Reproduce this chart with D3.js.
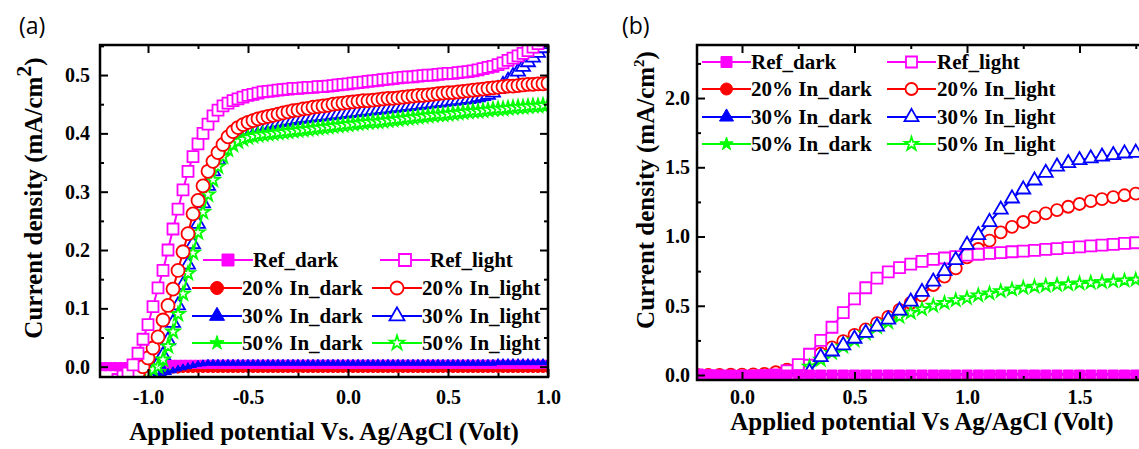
<!DOCTYPE html>
<html>
<head>
<meta charset="utf-8">
<script src="https://cdn.jsdelivr.net/npm/d3@7"></script>
<style>
  body { margin: 0; background: #fff; }
  svg { display: block; }
</style>
</head>
<body>
<div id="chart"></div>
<script>
// --------------------------------------
//  Data
// --------------------------------------

// panel (a): scan from -1.225 V to 1.0 V, 0.025 V step
const xsA = d3.range(-1.225, 1.0001, 0.025);

const refLightA = [
  -0.05, -0.045, -0.035, -0.022, -0.016, -0.011, 0.003, 0.023, 0.047, 0.072,
  0.103, 0.135, 0.165, 0.2, 0.236, 0.27, 0.303, 0.335, 0.36, 0.382,
  0.4, 0.416, 0.43, 0.44, 0.447, 0.452, 0.456, 0.459, 0.462, 0.465,
  0.467, 0.469, 0.471, 0.472, 0.473, 0.474, 0.475, 0.476, 0.477, 0.477,
  0.478, 0.479, 0.479, 0.48, 0.48, 0.481, 0.482, 0.483, 0.484, 0.485,
  0.486, 0.487, 0.488, 0.489, 0.49, 0.491, 0.492, 0.493, 0.494, 0.495,
  0.496, 0.497, 0.497, 0.498, 0.499, 0.5, 0.5, 0.501, 0.502, 0.503,
  0.503, 0.504, 0.505, 0.506, 0.507, 0.509, 0.511, 0.513, 0.515, 0.518,
  0.521, 0.525, 0.529, 0.533, 0.537, 0.542, 0.548, 0.554, 0.56, 0.566
];
const in20LightA = [
  -0.06, -0.055, -0.05, -0.045, -0.038, -0.03, -0.022, -0.012, 0.0, 0.015,
  0.032, 0.051, 0.08, 0.105, 0.133, 0.165, 0.197, 0.228, 0.262, 0.285,
  0.31, 0.335, 0.352, 0.367, 0.381, 0.394, 0.403, 0.41, 0.415, 0.419,
  0.422, 0.425, 0.427, 0.429, 0.431, 0.433, 0.435, 0.437, 0.439, 0.44,
  0.442, 0.443, 0.445, 0.446, 0.447, 0.448, 0.45, 0.451, 0.452, 0.453,
  0.454, 0.455, 0.456, 0.456, 0.457, 0.458, 0.459, 0.46, 0.46, 0.461,
  0.462, 0.463, 0.464, 0.465, 0.465, 0.466, 0.467, 0.468, 0.469, 0.47,
  0.47, 0.471, 0.472, 0.473, 0.474, 0.475, 0.476, 0.477, 0.478, 0.479,
  0.48, 0.481, 0.481, 0.482, 0.483, 0.484, 0.484, 0.485, 0.485, 0.486
];
const in30LightA = [
  -0.07, -0.065, -0.06, -0.055, -0.05, -0.045, -0.038, -0.03, -0.02, -0.012,
  -0.005, 0.005, 0.02, 0.045, 0.075, 0.105, 0.14, 0.175, 0.21, 0.245,
  0.28, 0.31, 0.335, 0.355, 0.372, 0.384, 0.392, 0.398, 0.402, 0.405,
  0.408, 0.41, 0.413, 0.415, 0.417, 0.419, 0.42, 0.422, 0.423, 0.425,
  0.426, 0.427, 0.428, 0.429, 0.43, 0.431, 0.432, 0.433, 0.434, 0.435,
  0.436, 0.437, 0.438, 0.439, 0.44, 0.441, 0.442, 0.443, 0.444, 0.445,
  0.446, 0.447, 0.448, 0.449, 0.45, 0.451, 0.452, 0.453, 0.454, 0.455,
  0.456, 0.457, 0.458, 0.459, 0.46, 0.462, 0.464, 0.466, 0.47, 0.476,
  0.483, 0.49, 0.498, 0.506, 0.514, 0.522, 0.53, 0.538, 0.546, 0.553
];
const in50LightA = [
  -0.06, -0.055, -0.05, -0.045, -0.04, -0.035, -0.03, -0.025, -0.02, -0.012,
  -0.005, 0.0, 0.012, 0.035, 0.06, 0.09, 0.125, 0.16, 0.195, 0.23,
  0.265, 0.295, 0.32, 0.343, 0.36, 0.372, 0.38, 0.386, 0.39, 0.393,
  0.395, 0.397, 0.398, 0.399, 0.4, 0.401, 0.402, 0.403, 0.404, 0.405,
  0.406, 0.407, 0.408, 0.409, 0.41, 0.411, 0.412, 0.413, 0.414, 0.415,
  0.416, 0.417, 0.418, 0.419, 0.42, 0.42, 0.421, 0.422, 0.423, 0.424,
  0.425, 0.426, 0.427, 0.428, 0.429, 0.43, 0.431, 0.432, 0.432, 0.433,
  0.434, 0.435, 0.436, 0.437, 0.438, 0.438, 0.439, 0.44, 0.441, 0.442,
  0.442, 0.443, 0.444, 0.445, 0.445, 0.446, 0.447, 0.447, 0.448, 0.449
];
const refDarkA = [
  0, 0, 0, 0, 0, 0, 0.003, 0.004, 0.004, 0.004,
  0.004, 0.004, 0.004, 0.004, 0.004, 0.004, 0.004, 0.004, 0.004, 0.004,
  0.004, 0.004, 0.004, 0.004, 0.004, 0.004, 0.004, 0.004, 0.004, 0.004,
  0.004, 0.004, 0.004, 0.004, 0.004, 0.004, 0.004, 0.004, 0.004, 0.004,
  0.004, 0.004, 0.004, 0.004, 0.004, 0.004, 0.004, 0.004, 0.004, 0.004,
  0.004, 0.004, 0.004, 0.004, 0.004, 0.004, 0.004, 0.004, 0.004, 0.004,
  0.004, 0.004, 0.004, 0.004, 0.004, 0.004, 0.004, 0.004, 0.004, 0.004,
  0.004, 0.004, 0.004, 0.004, 0.004, 0.004, 0.004, 0.004, 0.004, 0.004,
  0.004, 0.004, 0.004, 0.004, 0.004, 0.004, 0.004, 0.004, 0.004, 0.004
];
const in20DarkA = [
  -0.03, -0.028, -0.026, -0.024, -0.022, -0.02, -0.018, -0.016, -0.014, -0.012,
  -0.01, -0.009, -0.008, -0.007, -0.006, -0.006, -0.005, -0.005, -0.005, -0.005,
  -0.005, -0.005, -0.005, -0.005, -0.005, -0.005, -0.005, -0.005, -0.005, -0.005,
  -0.005, -0.005, -0.005, -0.005, -0.005, -0.005, -0.005, -0.005, -0.005, -0.005,
  -0.005, -0.005, -0.005, -0.005, -0.005, -0.005, -0.005, -0.005, -0.005, -0.005,
  -0.005, -0.005, -0.005, -0.005, -0.005, -0.005, -0.005, -0.005, -0.005, -0.005,
  -0.005, -0.005, -0.005, -0.005, -0.005, -0.005, -0.005, -0.005, -0.005, -0.005,
  -0.005, -0.005, -0.005, -0.005, -0.005, -0.005, -0.005, -0.005, -0.005, -0.005,
  -0.005, -0.005, -0.005, -0.005, -0.005, -0.005, -0.005, -0.005, -0.005, -0.005
];
const in30DarkA = [
  -0.04, -0.038, -0.036, -0.034, -0.032, -0.03, -0.027, -0.024, -0.02, -0.017,
  -0.015, -0.014, -0.013, -0.01, -0.007, -0.004, -0.002, 0.0, 0.002, 0.004,
  0.005, 0.006, 0.006, 0.006, 0.006, 0.006, 0.006, 0.006, 0.006, 0.006,
  0.006, 0.006, 0.006, 0.006, 0.006, 0.006, 0.006, 0.006, 0.006, 0.006,
  0.006, 0.006, 0.006, 0.006, 0.006, 0.006, 0.006, 0.006, 0.006, 0.006,
  0.006, 0.006, 0.006, 0.006, 0.006, 0.006, 0.006, 0.006, 0.006, 0.006,
  0.006, 0.006, 0.006, 0.006, 0.006, 0.006, 0.006, 0.006, 0.006, 0.006,
  0.006, 0.006, 0.006, 0.006, 0.006, 0.006, 0.006, 0.006, 0.006, 0.007,
  0.007, 0.007, 0.007, 0.007, 0.007, 0.007, 0.007, 0.007, 0.007, 0.007
];
const in50DarkA = [
  -0.035, -0.033, -0.031, -0.029, -0.027, -0.025, -0.022, -0.019, -0.016, -0.012,
  -0.009, -0.006, -0.004, -0.002, 0.0, 0.001, 0.001, 0.002, 0.002, 0.002,
  0.002, 0.002, 0.002, 0.002, 0.002, 0.002, 0.002, 0.002, 0.002, 0.002,
  0.002, 0.002, 0.002, 0.002, 0.002, 0.002, 0.002, 0.002, 0.002, 0.002,
  0.002, 0.002, 0.002, 0.002, 0.002, 0.002, 0.002, 0.002, 0.002, 0.002,
  0.002, 0.002, 0.002, 0.002, 0.002, 0.002, 0.002, 0.002, 0.002, 0.002,
  0.002, 0.002, 0.002, 0.002, 0.002, 0.002, 0.002, 0.002, 0.002, 0.002,
  0.002, 0.002, 0.002, 0.002, 0.002, 0.002, 0.002, 0.002, 0.002, 0.002,
  0.002, 0.002, 0.002, 0.002, 0.002, 0.002, 0.002, 0.002, 0.002, 0.002
];

// panel (b): scan from -0.2 V to 1.8 V, 0.05 V step
const xsB = d3.range(-0.2, 1.8001, 0.05);

const refLightB = [
  0.0, -0.005, -0.008, -0.01, -0.01, -0.008, -0.005, 0.0, 0.03, 0.075,
  0.15, 0.25, 0.345, 0.45, 0.55, 0.63, 0.7, 0.745, 0.775, 0.8,
  0.82, 0.835, 0.845, 0.855, 0.865, 0.872, 0.878, 0.884, 0.89, 0.895,
  0.9, 0.907, 0.913, 0.92, 0.926, 0.932, 0.938, 0.944, 0.95, 0.955, 0.96
];
const in20LightB = [
  0.0, 0.0, 0.0, 0.002, 0.003, 0.005, 0.008, 0.02, 0.038, 0.065,
  0.1, 0.155, 0.2, 0.245, 0.29, 0.33, 0.375, 0.42, 0.47, 0.52,
  0.575, 0.65, 0.71, 0.77, 0.85, 0.91, 0.97, 1.03, 1.07, 1.105,
  1.14, 1.167, 1.19, 1.215, 1.235, 1.255, 1.27, 1.285, 1.298, 1.31, 1.318
];
const in30LightB = [
  null, null, null, null, null, null, null, null, null, null,
  0.02, 0.13, 0.17, 0.215, 0.262, 0.305, 0.35, 0.4, 0.465, 0.53,
  0.6, 0.675, 0.75, 0.83, 0.94, 1.01, 1.105, 1.195, 1.275, 1.34,
  1.405, 1.46, 1.505, 1.53, 1.552, 1.565, 1.577, 1.588, 1.6, 1.605, 1.61
];
const in50LightB = [
  null, null, null, null, null, null, null, null, null, null,
  0.06, 0.11, 0.16, 0.205, 0.25, 0.3, 0.345, 0.38, 0.42, 0.45,
  0.475, 0.5, 0.52, 0.54, 0.555, 0.575, 0.59, 0.605, 0.618, 0.63,
  0.638, 0.645, 0.651, 0.656, 0.662, 0.667, 0.672, 0.677, 0.683, 0.688, 0.692
];
const refDarkB = [
  0, 0, 0, 0, 0, 0, 0, 0, 0, 0,
  0, 0, 0, 0, 0, 0, 0, 0, 0, 0,
  0, 0, 0, 0, 0, 0, 0, 0, 0, 0,
  0, 0, 0, 0, 0, 0, 0, 0, 0, 0, 0
];
const in20DarkB = [
  0, 0, 0, 0, 0, 0, 0, 0, 0, 0,
  0, 0, 0, 0, 0, 0, 0, 0, 0, 0,
  0, 0, 0, 0, 0, 0, 0, 0, 0, 0,
  0, 0, 0, 0, 0, 0, 0, 0, 0, 0, 0
];
const in30DarkB = [
  0.005, 0.005, 0.005, 0.005, 0.005, 0.005, 0.005, 0.005, 0.005, 0.005,
  0.005, 0.005, 0.005, 0.005, 0.005, 0.005, 0.005, 0.005, 0.005, 0.005,
  0.005, 0.005, 0.005, 0.005, 0.005, 0.005, 0.005, 0.005, 0.005, 0.005,
  0.005, 0.005, 0.005, 0.005, 0.005, 0.005, 0.005, 0.005, 0.005, 0.005, 0.005
];
const in50DarkB = [
  0, 0, 0, 0, 0, 0, 0, 0, 0, 0,
  0, 0, 0, 0, 0, 0, 0, 0, 0, 0,
  0, 0, 0, 0, 0, 0, 0, 0, 0, 0,
  0, 0, 0, 0, 0, 0, 0, 0, 0, 0, 0
];

// legend labels, in the two-column order used by the figure
const legendLeft  = ["refDark", "in20Dark", "in30Dark", "in50Dark"];
const legendRight = ["refLight", "in20Light", "in30Light", "in50Light"];

// --------------------------------------
//  Styles
// --------------------------------------

const width = 1139, height = 449;
const serif = "'Liberation Serif', 'Times New Roman', serif";

const styles = {
  refDark:   { name: "Ref_dark",     color: "#ff00ff", shape: "square",   hollow: false },
  refLight:  { name: "Ref_light",    color: "#ff00ff", shape: "square",   hollow: true },
  in20Dark:  { name: "20% In_dark",  color: "#ff0000", shape: "circle",   hollow: false },
  in20Light: { name: "20% In_light", color: "#ff0000", shape: "circle",   hollow: true },
  in30Dark:  { name: "30% In_dark",  color: "#0000ff", shape: "triangle", hollow: false },
  in30Light: { name: "30% In_light", color: "#0000ff", shape: "triangle", hollow: true },
  in50Dark:  { name: "50% In_dark",  color: "#00ff00", shape: "star",     hollow: false },
  in50Light: { name: "50% In_light", color: "#00ff00", shape: "star",     hollow: true }
};

// symbol of a given visual width (px)
function symbolPath(shape, w) {
  if (shape === "square") return d3.symbol(d3.symbolSquare, w * w)();
  if (shape === "circle") return d3.symbol(d3.symbolCircle, Math.PI * (w / 2) ** 2)();
  if (shape === "triangle") {
    const yy = w / (2 * Math.sqrt(3));
    return d3.symbol(d3.symbolTriangle, yy * yy * 3 * Math.sqrt(3))();
  }
  return d3.symbol(d3.symbolStar, (w / 2) ** 2 / 0.8908130915292852)();
}

const svg = d3.select("#chart")
  .append("svg")
    .attr("width", width)
    .attr("height", height)
    .attr("viewBox", [0, 0, width, height]);

// --------------------------------------
//  Panel drawing
// --------------------------------------

function drawPanel(p) {
  const x = d3.scaleLinear().domain(p.xDomain).range(p.xRange);
  const y = d3.scaleLinear().domain(p.yDomain).range(p.yRange);
  const [x0, x1] = p.xRange, [y1, y0] = p.yRange;

  svg.append("clipPath").attr("id", "clip-" + p.id)
    .append("rect")
      .attr("x", x0).attr("y", y0)
      .attr("width", x1 - x0).attr("height", y1 - y0);

  const plot = svg.append("g").attr("clip-path", `url(#clip-${p.id})`);

  const line = d3.line()
    .defined(d => d[1] != null)
    .x(d => x(d[0]))
    .y(d => y(d[1]));

  p.order.forEach(key => {
    const st = styles[key];
    const pts = p.xs.map((xv, i) => [xv, p.series[key][i]]);
    const light = st.hollow;
    plot.append("path")
      .datum(pts)
      .attr("d", line)
      .attr("fill", "none")
      .attr("stroke", st.color)
      .attr("stroke-width", 2);
    plot.append("g")
      .selectAll("path")
      .data(pts.filter(d => d[1] != null))
      .join("path")
        .attr("transform", d => `translate(${x(d[0])},${y(d[1])})`)
        .attr("d", symbolPath(st.shape, p.markerSize[key]))
        .attr("fill", light ? "#fff" : st.color)
        .attr("stroke", st.color)
        .attr("stroke-width", light ? 1.8 : 1);
  });

  // legend
  const leg = svg.append("g").attr("clip-path", `url(#clip-${p.id})`);
  [legendLeft, legendRight].forEach((col, c) => {
    col.forEach((key, r) => {
      const st = styles[key];
      const shift = r === 0 ? p.legend.firstShift[c] : 0;
      const lx = p.legend.lineX[c] + shift;
      const ly = p.legend.rowY[r];
      leg.append("line")
        .attr("x1", lx).attr("x2", lx + p.legend.lineLen)
        .attr("y1", ly).attr("y2", ly)
        .attr("stroke", st.color).attr("stroke-width", 2);
      leg.append("path")
        .attr("transform", `translate(${lx + p.legend.lineLen / 2},${ly})`)
        .attr("d", symbolPath(st.shape, p.legend.marker[st.shape]))
        .attr("fill", st.hollow ? "#fff" : st.color)
        .attr("stroke", st.color)
        .attr("stroke-width", st.hollow ? 1.8 : 1);
      leg.append("text")
        .attr("x", p.legend.textX[c] + shift)
        .attr("y", ly + 7)
        .attr("font-family", serif)
        .attr("font-weight", "bold")
        .attr("font-size", 21)
        .text(st.name);
    });
  });

  // axes, ticks pointing inward on all four sides
  const fmt = d => d.toFixed(1);
  const styleAxis = g => {
    g.select(".domain").remove();
    g.selectAll(".tick line").attr("stroke", "#000").attr("stroke-width", 2);
    g.selectAll("text")
      .attr("font-family", serif)
      .attr("font-weight", "bold")
      .attr("font-size", 20)
      .attr("fill", "#000");
  };

  svg.append("g").attr("transform", `translate(0,${y1})`)
    .call(d3.axisBottom(x).tickValues(p.xMajor).tickSize(-8).tickPadding(p.xPad).tickFormat(fmt))
    .call(styleAxis);
  svg.append("g").attr("transform", `translate(0,${y1})`)
    .call(d3.axisBottom(x).tickValues(p.xMinor).tickSize(-4).tickFormat(""))
    .call(styleAxis);
  svg.append("g").attr("transform", `translate(0,${y0})`)
    .call(d3.axisTop(x).tickValues(p.xMajor).tickSize(-8).tickFormat(""))
    .call(styleAxis);
  svg.append("g").attr("transform", `translate(0,${y0})`)
    .call(d3.axisTop(x).tickValues(p.xMinor).tickSize(-4).tickFormat(""))
    .call(styleAxis);

  svg.append("g").attr("transform", `translate(${x0},0)`)
    .call(d3.axisLeft(y).tickValues(p.yMajor).tickSize(-8).tickPadding(p.yPad).tickFormat(fmt))
    .call(styleAxis);
  svg.append("g").attr("transform", `translate(${x0},0)`)
    .call(d3.axisLeft(y).tickValues(p.yMinor).tickSize(-4).tickFormat(""))
    .call(styleAxis);
  svg.append("g").attr("transform", `translate(${x1},0)`)
    .call(d3.axisRight(y).tickValues(p.yMajor).tickSize(-8).tickFormat(""))
    .call(styleAxis);
  svg.append("g").attr("transform", `translate(${x1},0)`)
    .call(d3.axisRight(y).tickValues(p.yMinor).tickSize(-4).tickFormat(""))
    .call(styleAxis);

  svg.append("rect")
    .attr("x", x0).attr("y", y0)
    .attr("width", x1 - x0).attr("height", y1 - y0)
    .attr("fill", "none")
    .attr("stroke", "#000")
    .attr("stroke-width", 2.5);

  // titles
  svg.append("text")
    .attr("x", p.xTitle[0]).attr("y", p.xTitle[1])
    .attr("text-anchor", "middle")
    .attr("font-family", serif).attr("font-weight", "bold").attr("font-size", 25)
    .text(p.xLabel);

  const yt = svg.append("text")
    .attr("transform", `translate(${p.yTitle[0]},${p.yTitle[1]}) rotate(-90)`)
    .attr("text-anchor", "middle")
    .attr("font-family", serif).attr("font-weight", "bold").attr("font-size", 25);
  yt.append("tspan").text("Current density (mA/cm");
  yt.append("tspan").attr("font-size", p.supSize).attr("dy", -p.supRise).text("2");
  yt.append("tspan").attr("dy", p.supRise).text(")");

  svg.append("text")
    .attr("x", p.tag[0]).attr("y", p.tag[1])
    .attr("font-family", "'Open Sans', 'Liberation Sans', sans-serif")
    .attr("font-size", 23)
    .text(p.tagText);
}

drawPanel({
  id: "a",
  xs: xsA,
  series: {
    refDark: refDarkA, refLight: refLightA,
    in20Dark: in20DarkA, in20Light: in20LightA,
    in30Dark: in30DarkA, in30Light: in30LightA,
    in50Dark: in50DarkA, in50Light: in50LightA
  },
  order: ["in20Dark", "in50Dark", "refDark", "in30Dark", "in30Light", "in50Light", "in20Light", "refLight"],
  markerSize: {
    refDark: 8, in20Dark: 6, in30Dark: 7, in50Dark: 8,
    refLight: 11, in20Light: 13, in30Light: 14, in50Light: 14
  },
  xDomain: [-1.24, 1.0], xRange: [100, 548],
  yDomain: [-0.0177, 0.5515], yRange: [377, 45],
  xMajor: [-1.0, -0.5, 0.0, 0.5, 1.0], xMinor: [-0.75, -0.25, 0.25, 0.75],
  yMajor: [0.0, 0.1, 0.2, 0.3, 0.4, 0.5], yMinor: [0.05, 0.15, 0.25, 0.35, 0.45, 0.55],
  xPad: 13, yPad: 10,
  legend: {
    lineX: [192, 372], textX: [242, 422], lineLen: 50,
    rowY: [260, 288, 316, 343], firstShift: [11, 8],
    marker: { square: 12, circle: 13, triangle: 15, star: 15 }
  },
  xLabel: "Applied potential Vs. Ag/AgCl (Volt)",
  xTitle: [324, 440],
  yTitle: [42, 198],
  supSize: 22, supRise: 11,
  tag: [19, 34], tagText: "(a)"
});

drawPanel({
  id: "b",
  xs: xsB,
  series: {
    refDark: refDarkB, refLight: refLightB,
    in20Dark: in20DarkB, in20Light: in20LightB,
    in30Dark: in30DarkB, in30Light: in30LightB,
    in50Dark: in50DarkB, in50Light: in50LightB
  },
  order: ["in20Light", "refLight", "in50Light", "in30Light", "in50Dark", "in20Dark", "in30Dark", "refDark"],
  markerSize: {
    refDark: 10, in20Dark: 7, in30Dark: 7, in50Dark: 8,
    refLight: 11, in20Light: 12, in30Light: 14, in50Light: 13
  },
  xDomain: [-0.2, 1.8], xRange: [697, 1147],
  yDomain: [-0.036, 2.383], yRange: [380, 45],
  xMajor: [0.0, 0.5, 1.0, 1.5], xMinor: [0.25, 0.75, 1.25, 1.75],
  yMajor: [0.0, 0.5, 1.0, 1.5, 2.0], yMinor: [0.25, 0.75, 1.25, 1.75, 2.25],
  xPad: 10, yPad: 7,
  legend: {
    lineX: [702, 887], textX: [751, 937], lineLen: 49,
    rowY: [62, 89, 117, 144], firstShift: [0, 0],
    marker: { square: 11, circle: 12, triangle: 14, star: 14 }
  },
  xLabel: "Applied potential Vs Ag/AgCl (Volt)",
  xTitle: [922, 430],
  yTitle: [654, 190],
  supSize: 15, supRise: 10,
  tag: [622, 34], tagText: "(b)"
});
</script>
</body>
</html>
